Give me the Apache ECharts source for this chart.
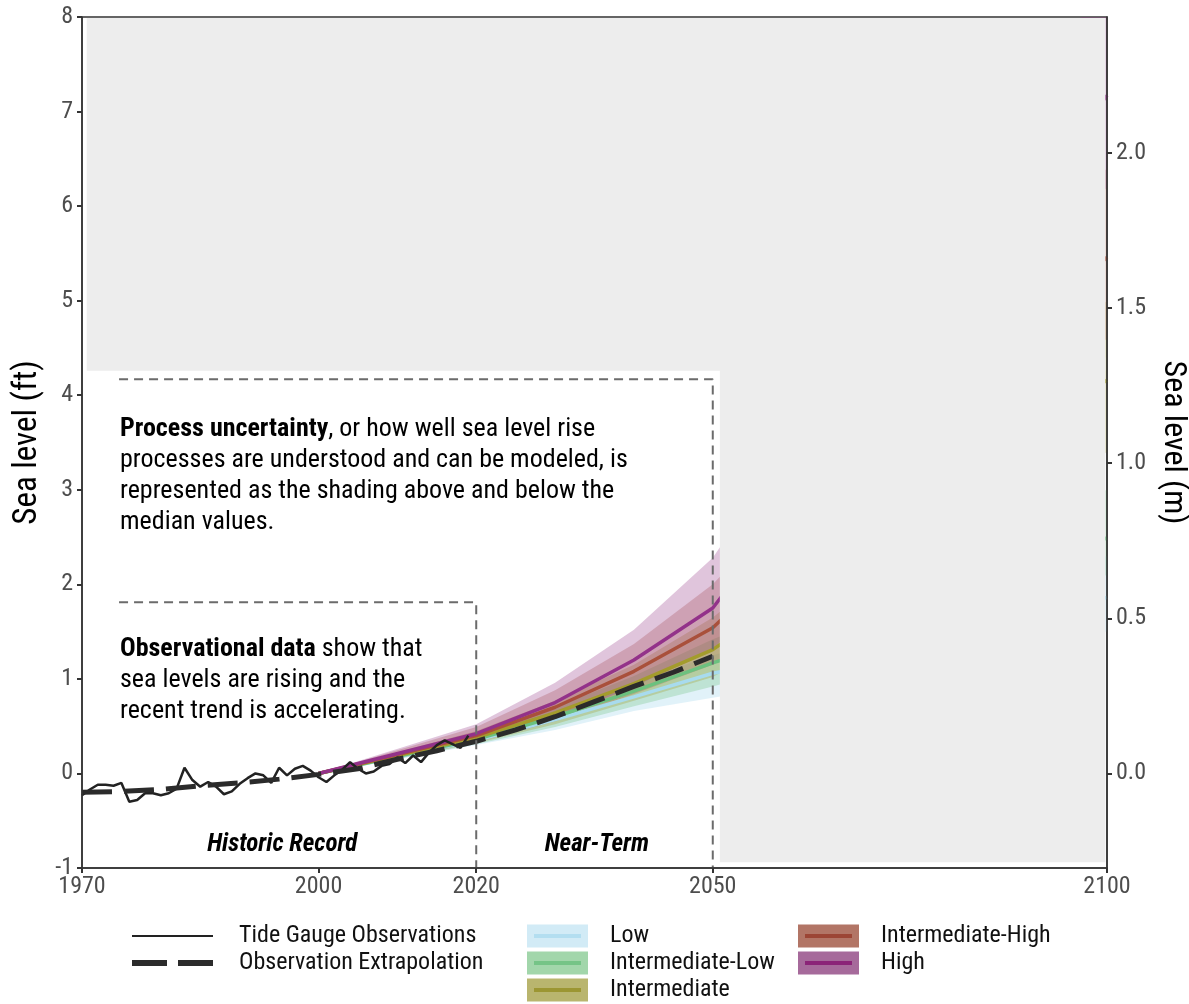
<!DOCTYPE html>
<html>
<head>
<meta charset="utf-8">
<title>Sea level rise scenarios</title>
<script src="https://cdn.jsdelivr.net/npm/echarts@6/dist/echarts.min.js"></script>
<style>
  html, body { margin: 0; padding: 0; background: #fff; }
  #chart { width: 1189px; height: 1004px; }
</style>
</head>
<body>
<div id="chart"></div>
<script>
// Annual tide gauge means, feet relative to 2000
const gaugeYears = [1970,1971,1972,1973,1974,1975,1976,1977,1978,1979,1980,1981,1982,1983,1984,1985,1986,1987,1988,1989,1990,1991,1992,1993,1994,1995,1996,1997,1998,1999,2000,2001,2002,2003,2004,2005,2006,2007,2008,2009,2010,2011,2012,2013,2014,2015,2016,2017,2018,2019];
const gaugeValues = [-0.23,-0.17,-0.12,-0.12,-0.13,-0.10,-0.30,-0.28,-0.21,-0.21,-0.23,-0.21,-0.16,0.06,-0.07,-0.14,-0.09,-0.14,-0.22,-0.19,-0.11,-0.05,0.00,-0.02,-0.10,0.06,-0.02,0.05,0.08,0.03,-0.04,-0.09,-0.02,0.04,0.12,0.05,0.00,0.02,0.08,0.10,0.17,0.11,0.19,0.12,0.22,0.30,0.35,0.31,0.27,0.40];

// Extrapolated observed trend
const trendYears = [1970,1975,1980,1985,1990,1995,2000,2005,2010,2015,2020,2025,2030,2035,2040,2045,2050];
const trendValues = [-0.20,-0.19,-0.17,-0.13,-0.10,-0.06,-0.01,0.05,0.15,0.24,0.34,0.46,0.60,0.76,0.92,1.07,1.24];

// Scenario projections (median with low/high shading), feet
const projYears = [2000, 2020, 2030, 2040, 2050, 2100];
const scenarioNames = ['Low', 'Intermediate-Low', 'Intermediate', 'Intermediate-High', 'High'];
const lowMed   = [0, 0.35, 0.57, 0.81, 1.06, 1.86];
const lowLo    = [0, 0.30, 0.46, 0.66, 0.80, 1.50];
const lowHi    = [0, 0.40, 0.66, 0.96, 1.25, 2.30];
const intLowMed = [0, 0.36, 0.60, 0.87, 1.17, 2.49];
const intLowLo  = [0, 0.31, 0.49, 0.71, 0.92, 2.10];
const intLowHi  = [0, 0.42, 0.70, 1.03, 1.42, 3.00];
const intMed   = [0, 0.38, 0.64, 0.95, 1.31, 4.16];
const intLo    = [0, 0.32, 0.52, 0.77, 1.02, 3.40];
const intHi    = [0, 0.45, 0.77, 1.15, 1.65, 5.00];
const intHighMed = [0, 0.40, 0.70, 1.08, 1.54, 5.46];
const intHighLo  = [0, 0.33, 0.55, 0.84, 1.15, 4.60];
const intHighHi  = [0, 0.49, 0.88, 1.37, 2.00, 6.40];
const highMed  = [0, 0.42, 0.75, 1.20, 1.75, 7.17];
const highLo   = [0, 0.34, 0.58, 0.92, 1.30, 6.20];
const highHi   = [0, 0.52, 0.96, 1.52, 2.28, 8.40];

// Axis ticks
const mTicks = [0, 0.5, 1.0, 1.5, 2.0];
const yearTicks = [1970, 2000, 2020, 2050, 2100];

const FT_PER_M = 3.28084;
const FONT = "'Roboto Condensed', 'Liberation Sans Narrow', 'DejaVu Sans Condensed', Roboto, sans-serif";

const lineColors = ['#a8dbee', '#6cc17f', '#a39c2c', '#a9503b', '#93328a'];
const bandColors = ['rgba(168,219,238,0.35)', 'rgba(108,193,127,0.3)', 'rgba(163,156,44,0.3)', 'rgba(169,80,59,0.28)', 'rgba(142,47,128,0.28)'];
const keyFill = ['#d2ebf6', '#a2d6ab', '#b9b56e', '#b27566', '#a66a9b'];
const keyLine = ['#b3def0', '#75c487', '#9c9632', '#9c4535', '#8b2478'];

const medians = [lowMed, intLowMed, intMed, intHighMed, highMed];
const lows = [lowLo, intLowLo, intLo, intHighLo, highLo];
const highs = [lowHi, intLowHi, intHi, intHighHi, highHi];

const chart = echarts.init(document.getElementById('chart'), null, { renderer: 'canvas' });

function bandSeries(idx) {
  const data = projYears.map((y, i) => [y, lows[idx][i], highs[idx][i]]);
  return {
    type: 'custom',
    name: scenarioNames[idx] + ' range',
    z: 2,
    clip: true,
    silent: true,
    data: data,
    encode: { x: 0, y: [1, 2] },
    renderItem: function (params, api) {
      if (params.dataIndex !== 0) return null;
      const top = data.map(d => api.coord([d[0], d[2]]));
      const bot = data.map(d => api.coord([d[0], d[1]])).reverse();
      return { type: 'polygon', shape: { points: top.concat(bot) }, style: { fill: bandColors[idx] } };
    }
  };
}

function medianSeries(idx) {
  return {
    type: 'line',
    name: scenarioNames[idx],
    z: 3,
    silent: true,
    showSymbol: false,
    clip: true,
    data: projYears.map((y, i) => [y, medians[idx][i]]),
    lineStyle: { color: lineColors[idx], width: 3.5 }
  };
}

const series = [];
for (let i = 0; i < scenarioNames.length; i++) series.push(bandSeries(i));
for (let i = 0; i < scenarioNames.length; i++) series.push(medianSeries(i));

series.push({
  type: 'line', name: 'Tide Gauge Observations', z: 4, silent: true, showSymbol: false,
  data: gaugeYears.map((y, i) => [y, gaugeValues[i]]),
  lineStyle: { color: '#222', width: 2.5 }
});
series.push({
  type: 'line', name: 'Observation Extrapolation', z: 4, silent: true, showSymbol: false,
  data: trendYears.map((y, i) => [y, trendValues[i]]),
  lineStyle: { color: '#2b2b2b', width: 5, type: [30, 12], cap: 'butt' }
});

// Shaded backdrop drawn over everything outside the annotated window
const backdropRects = [
  [1970.6, 4.26, 2099.8, 7.99],
  [2050.9, -0.94, 2099.8, 4.4]
];
series.push({
  type: 'custom', name: 'backdrop', z: 5, silent: true,
  data: backdropRects,
  encode: { x: [0, 2], y: [1, 3] },
  renderItem: function (params, api) {
    const r = backdropRects[params.dataIndex];
    const p0 = api.coord([r[0], r[3]]);
    const p1 = api.coord([r[2], r[1]]);
    return { type: 'rect', shape: { x: p0[0], y: p0[1], width: p1[0] - p0[0], height: p1[1] - p0[1] }, style: { fill: '#ededed' } };
  }
});

// Dashed outlines of the two time windows
const windowBoxes = [
  [[1974.7, 1.81], [2020, 1.81], [2020, -1]],
  [[1974.7, 4.17], [2050, 4.17], [2050, -1]]
];
windowBoxes.forEach((pts, i) => {
  series.push({
    type: 'line', name: 'window' + i, z: 6, silent: true, showSymbol: false,
    data: pts,
    lineStyle: { color: '#6b6b6b', width: 2, type: [9, 6] }
  });
});

chart.setOption({
  animation: false,
  backgroundColor: '#fff',
  grid: {
    left: 82, right: 82, top: 17, bottom: 136,
    containLabel: false, outerBoundsMode: 'none',
    show: true, borderColor: '#333', borderWidth: 1.5, backgroundColor: 'transparent'
  },
  xAxis: {
    type: 'value', min: 1970, max: 2100, z: 10,
    axisLine: { show: true, onZero: false, lineStyle: { color: '#333', width: 1.5 } },
    axisTick: { show: true, length: 5, customValues: yearTicks, lineStyle: { color: '#333', width: 2 } },
    axisLabel: { customValues: yearTicks, color: '#4d4d4d', fontSize: 24, fontFamily: FONT, margin: 7,
                 formatter: v => String(v) },
    splitLine: { show: false }
  },
  yAxis: [
    {
      type: 'value', min: -1, max: 8, interval: 1, z: 10,
      name: 'Sea level (ft)', nameLocation: 'middle', nameGap: 38,
      nameTextStyle: { color: '#000', fontSize: 33, fontFamily: FONT },
      axisLine: { show: true, onZero: false, lineStyle: { color: '#333', width: 1.5 } },
      axisTick: { show: true, length: 5, lineStyle: { color: '#333', width: 2 } },
      axisLabel: { color: '#4d4d4d', fontSize: 24, fontFamily: FONT, margin: 9 },
      splitLine: { show: false }
    },
    {
      type: 'value', position: 'right', z: 10,
      min: -1 / FT_PER_M, max: 8 / FT_PER_M,
      name: 'Sea level (m)', nameLocation: 'middle', nameGap: 33, nameRotate: -90,
      nameTextStyle: { color: '#000', fontSize: 32, fontFamily: FONT },
      axisLine: { show: true, onZero: false, lineStyle: { color: '#333', width: 1.5 } },
      axisTick: { show: true, length: 5, customValues: mTicks, lineStyle: { color: '#333', width: 2 } },
      axisLabel: { customValues: mTicks, color: '#4d4d4d', fontSize: 24, fontFamily: FONT, margin: 9,
                   formatter: v => v.toFixed(1) },
      splitLine: { show: false }
    }
  ],
  series: series
});

// Annotations and legend
function px(x, y) { return chart.convertToPixel({ gridIndex: 0 }, [x, y]); }

const NOTE_SIZE = 26;
const graphics = [];
const note1 = px(1974.82, 3.80);
graphics.push({
  type: 'text', z: 20, x: note1[0], y: note1[1],
  style: {
    text: '{b|Process uncertainty}, or how well sea level rise\nprocesses are understood and can be modeled, is\nrepresented as the shading above and below the\nmedian values.',
    fill: '#000', font: NOTE_SIZE + 'px ' + FONT, lineHeight: 31, verticalAlign: 'top',
    rich: { b: { fontWeight: 'bold', fontSize: NOTE_SIZE, fontFamily: FONT, lineHeight: 31 } }
  }
});
const note2 = px(1974.82, 1.48);
graphics.push({
  type: 'text', z: 20, x: note2[0], y: note2[1],
  style: {
    text: '{b|Observational data} show that\nsea levels are rising and the\nrecent trend is accelerating.',
    fill: '#000', font: NOTE_SIZE + 'px ' + FONT, lineHeight: 31, verticalAlign: 'top',
    rich: { b: { fontWeight: 'bold', fontSize: NOTE_SIZE, fontFamily: FONT, lineHeight: 31 } }
  }
});
const periodLabels = [['Historic Record', 1995.4], ['Near-Term', 2035.3]];
periodLabels.forEach(p => {
  const pos = px(p[1], -0.75);
  graphics.push({
    type: 'text', z: 20, x: pos[0], y: pos[1],
    style: { text: p[0], fill: '#000', font: 'italic bold 25px ' + FONT, align: 'center', verticalAlign: 'middle' }
  });
});

// Legend: observation lines
const legendRows = [936, 963, 990];
const legendTextStyle = { fill: '#111', font: '24px ' + FONT, verticalAlign: 'middle' };
graphics.push({ type: 'line', z: 20, shape: { x1: 132, y1: legendRows[0], x2: 213, y2: legendRows[0] }, style: { stroke: '#222', lineWidth: 2 } });
graphics.push({ type: 'text', z: 20, x: 239, y: legendRows[0], style: Object.assign({ text: 'Tide Gauge Observations' }, legendTextStyle) });
graphics.push({ type: 'line', z: 20, shape: { x1: 132, y1: legendRows[1], x2: 213, y2: legendRows[1] }, style: { stroke: '#2b2b2b', lineWidth: 6, lineDash: [35, 11] } });
graphics.push({ type: 'text', z: 20, x: 239, y: legendRows[1], style: Object.assign({ text: 'Observation Extrapolation' }, legendTextStyle) });

// Legend: scenarios in two columns
const legendCols = [[527, 610], [798, 881]];
scenarioNames.forEach((name, i) => {
  const col = i < 3 ? 0 : 1;
  const row = i < 3 ? i : i - 3;
  const cy = legendRows[row];
  const bx = legendCols[col][0];
  graphics.push({ type: 'rect', z: 20, shape: { x: bx, y: cy - 11.5, width: 61, height: 23 }, style: { fill: keyFill[i] } });
  graphics.push({ type: 'line', z: 21, shape: { x1: bx + 7, y1: cy, x2: bx + 54, y2: cy }, style: { stroke: keyLine[i], lineWidth: 4 } });
  graphics.push({ type: 'text', z: 20, x: legendCols[col][1], y: cy, style: Object.assign({ text: name }, legendTextStyle) });
});

chart.setOption({ graphic: graphics });
</script>
</body>
</html>
